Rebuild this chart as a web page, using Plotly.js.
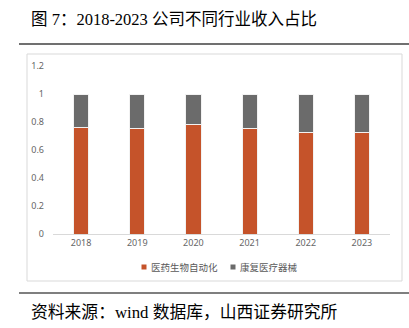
<!DOCTYPE html>
<html><head><meta charset="utf-8">
<script src="https://cdn.plot.ly/plotly-3.0.1.min.js"></script>
<style>html,body{margin:0;padding:0;background:#fff;}#c{width:409px;height:328px;}</style>
</head><body><div id="c"></div>
<script>
const years = ['2018','2019','2020','2021','2022','2023'];
const pharma = [0.762, 0.757, 0.783, 0.757, 0.724, 0.726];
const rehab = pharma.map(v => +(1 - v).toFixed(3));
const seriesNames = ['医药生物自动化', '康复医疗器械'];
const seriesColors = ['#c5532a', '#6b6b6b'];
const yTicks = [0, 0.2, 0.4, 0.6, 0.8, 1, 1.2];
const yTickText = ['0', '0.2', '0.4', '0.6', '0.8', '1', '1.2'];

const W = 409, H = 328;
const px = x => x / W, py = y => 1 - y / H;

const traces = [
  {type:'bar', x:years, y:pharma, name:seriesNames[0], width:0.27,
   marker:{color:seriesColors[0], line:{color:'#f2f2f2', width:1}}},
  {type:'bar', x:years, y:rehab, name:seriesNames[1], width:0.27,
   marker:{color:seriesColors[1], line:{color:'#f2f2f2', width:1}}}
];

const legendFont = {family:'Noto Sans CJK SC', size:9.5, color:'#595959'};
const layout = {
  width:W, height:H, margin:{l:0,r:0,t:0,b:0},
  paper_bgcolor:'#fff', plot_bgcolor:'#fff',
  barmode:'stack',
  showlegend:false,
  xaxis:{type:'category', domain:[px(53), px(390)], showline:true, linecolor:'#d9d9d9', linewidth:1,
    ticks:'', tickfont:{family:'Noto Sans, DejaVu Sans', size:9, color:'#666666'}, showgrid:false, zeroline:false, fixedrange:true},
  yaxis:{domain:[py(234), py(66)], range:[0,1.2], tickvals:yTicks, ticktext:yTickText,
    showline:false, showgrid:false, zeroline:false, ticks:'', ticklabelstandoff:8,
    tickfont:{family:'Noto Sans, DejaVu Sans', size:9, color:'#666666'}, fixedrange:true},
  shapes:[
    {type:'rect', xref:'paper', yref:'paper', x0:px(27), x1:px(402), y0:py(281), y1:py(54), line:{color:'#d9d9d9', width:1}},
    {type:'line', xref:'paper', yref:'paper', x0:px(19), x1:px(409), y0:py(44), y1:py(44), line:{color:'#404040', width:1.5}},
    {type:'line', xref:'paper', yref:'paper', x0:px(19), x1:px(409), y0:py(293), y1:py(293), line:{color:'#7f7f7f', width:2}},
    {type:'rect', xref:'paper', yref:'paper', x0:px(141.5), x1:px(146.5), y0:py(264.5), y1:py(269.5), fillcolor:seriesColors[0], line:{width:0}},
    {type:'rect', xref:'paper', yref:'paper', x0:px(230.5), x1:px(235.5), y0:py(264.5), y1:py(269.5), fillcolor:seriesColors[1], line:{width:0}}
  ],
  annotations:[
    {xref:'paper', yref:'paper', x:px(29), y:py(19), xanchor:'left', yanchor:'middle', showarrow:false,
     text:'图 7：2018-2023 公司不同行业收入占比', font:{family:'Liberation Serif, Noto Sans CJK SC', size:16.5, color:'#000'}},
    {xref:'paper', yref:'paper', x:px(29), y:py(312), xanchor:'left', yanchor:'middle', showarrow:false,
     text:'资料来源：wind 数据库，山西证券研究所', font:{family:'Liberation Serif, Noto Sans CJK SC', size:16.8, color:'#000'}},
    {xref:'paper', yref:'paper', x:px(149), y:py(267), xanchor:'left', yanchor:'middle', showarrow:false,
     text:seriesNames[0], font:legendFont},
    {xref:'paper', yref:'paper', x:px(238), y:py(267), xanchor:'left', yanchor:'middle', showarrow:false,
     text:seriesNames[1], font:legendFont}
  ]
};
Plotly.newPlot('c', traces, layout, {displayModeBar:false, staticPlot:true});
</script></body></html>
